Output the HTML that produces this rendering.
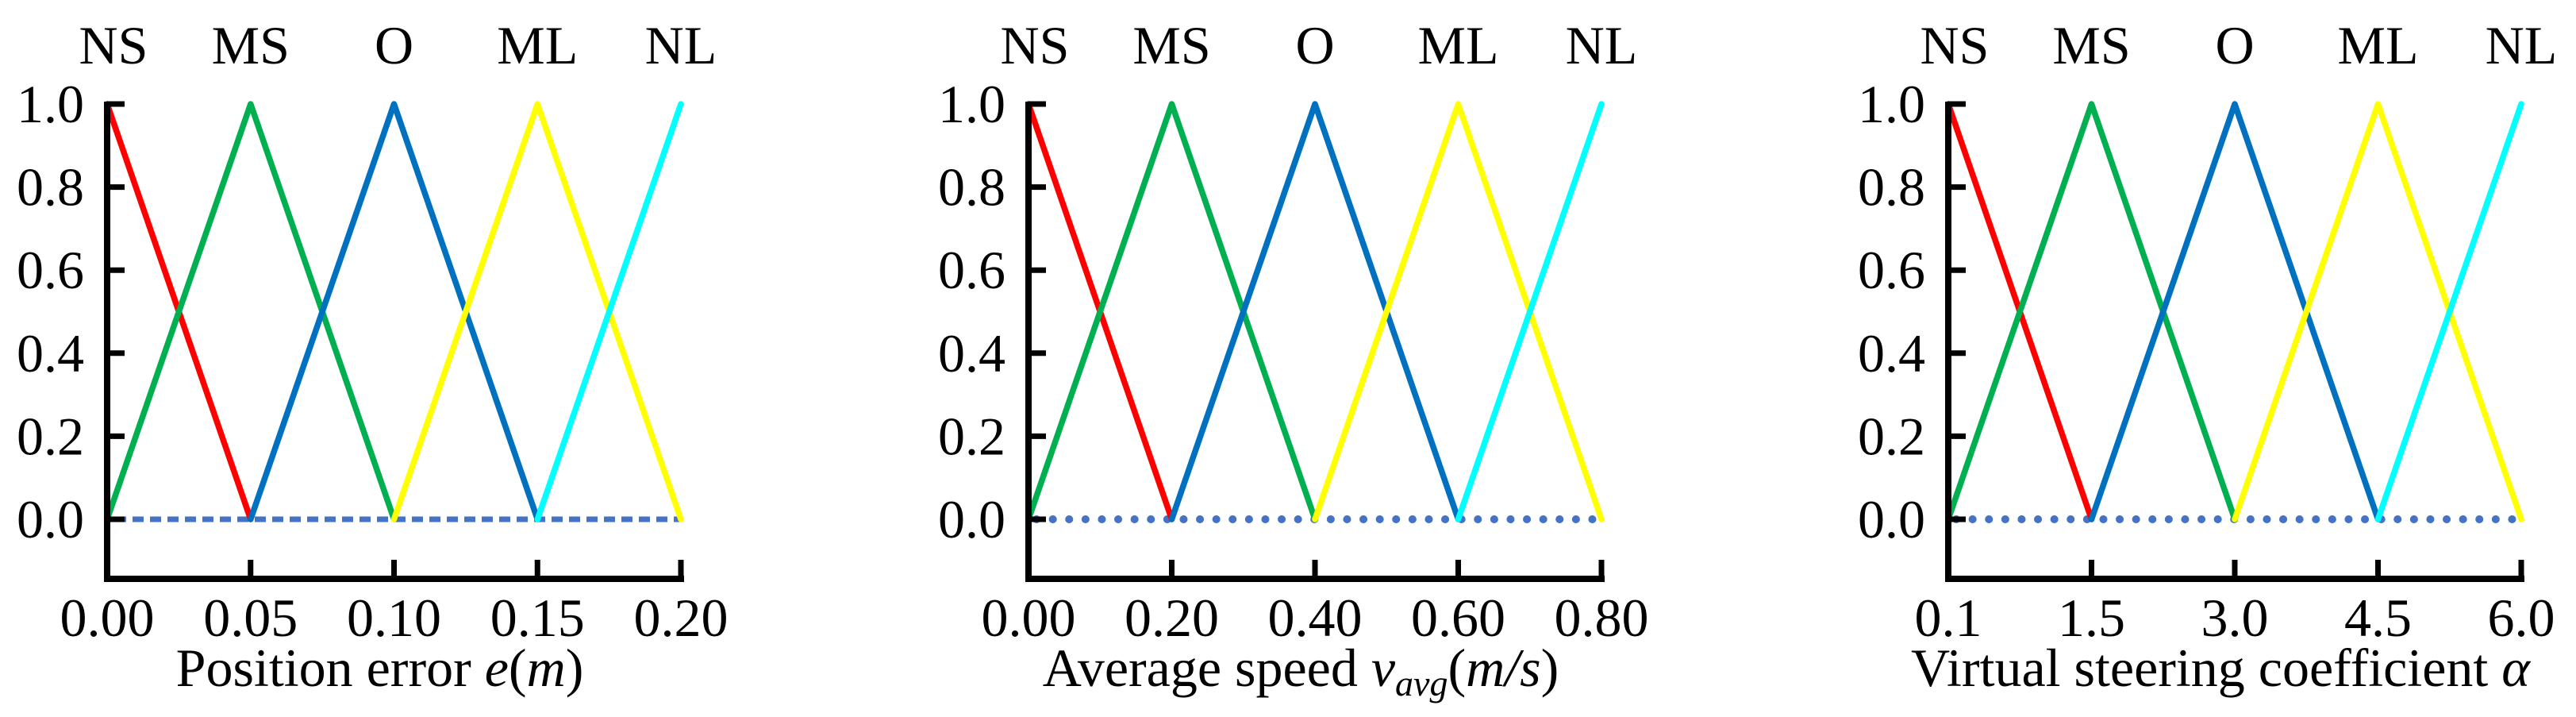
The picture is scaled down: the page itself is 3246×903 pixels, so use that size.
<!DOCTYPE html>
<html><head><meta charset="utf-8"><style>
html,body{margin:0;padding:0;background:#fff;}
svg{display:block;font-family:"Liberation Serif","DejaVu Serif",serif;}
</style></head><body>
<svg id="chart" width="3246" height="903" viewBox="0 0 3246 903" xmlns="http://www.w3.org/2000/svg"></svg>
<script>
// ---- data ----
const setLabels = ["NS","MS","O","ML","NL"];
const yTicks = [0.0,0.2,0.4,0.6,0.8,1.0];
const yTickLabels = ["0.0","0.2","0.4","0.6","0.8","1.0"];
const xTicks1 = [0.00,0.05,0.10,0.15,0.20];
const xTickLabels1 = ["0.00","0.05","0.10","0.15","0.20"];
const xTicks2 = [0.00,0.20,0.40,0.60,0.80];
const xTickLabels2 = ["0.00","0.20","0.40","0.60","0.80"];
const xTicks3 = [0.1,1.5,3.0,4.5,6.0];
const xTickLabels3 = ["0.1","1.5","3.0","4.5","6.0"];
// membership series (x,y) per panel
const seriesNS1 = [[0.00,1],[0.05,0]];
const seriesMS1 = [[0.00,0],[0.05,1],[0.10,0]];
const seriesO1  = [[0.05,0],[0.10,1],[0.15,0]];
const seriesML1 = [[0.10,0],[0.15,1],[0.20,0]];
const seriesNL1 = [[0.15,0],[0.20,1]];
const seriesNS2 = [[0.00,1],[0.20,0]];
const seriesMS2 = [[0.00,0],[0.20,1],[0.40,0]];
const seriesO2  = [[0.20,0],[0.40,1],[0.60,0]];
const seriesML2 = [[0.40,0],[0.60,1],[0.80,0]];
const seriesNL2 = [[0.60,0],[0.80,1]];
const seriesNS3 = [[0.1,1],[1.5,0]];
const seriesMS3 = [[0.1,0],[1.5,1],[3.0,0]];
const seriesO3  = [[1.5,0],[3.0,1],[4.5,0]];
const seriesML3 = [[3.0,0],[4.5,1],[6.0,0]];
const seriesNL3 = [[4.5,0],[6.0,1]];

const NS = "http://www.w3.org/2000/svg";
const svg = document.getElementById('chart');
const colors = ["#FF0000","#00B050","#0070C0","#FFFF00","#00FFFF"];
function mk(tag, attrs, parent){ const e=document.createElementNS(NS,tag); for(const k in attrs) e.setAttribute(k,attrs[k]); (parent||svg).appendChild(e); return e; }

const Y0 = 654, Y1 = 131, AXB = 729;
function yScale(v){ return Y0 + (Y1-Y0)*v; }

function panel(idx, left, right, ticks, tickLabels, series, titleHTML, dashStyle){
  const g = mk('g',{});
  
  
  function xScale(v){
    const n = ticks.length-1, step=(right-left)/n;
    for(let i=0;i<n;i++){
      if(v<=ticks[i+1] || i===n-1){
        return left + step*(i + (v-ticks[i])/(ticks[i+1]-ticks[i]));
      }
    }
  }
  const zl = mk('line',{x1:xScale(ticks[0])+10,y1:yScale(0),x2:xScale(ticks[ticks.length-1]),y2:yScale(0),stroke:"#4472C4","stroke-width":dashStyle==='dash'?7:10,"stroke-dasharray":dashStyle==='dash'?"14,8":"0.1,20.5","stroke-linecap":dashStyle==='dash'?"butt":"round"},g);
  
  
  series.forEach((s,i)=>{
    const p = mk('polyline',{points:s.map(d=>xScale(d[0]).toFixed(1)+","+yScale(d[1]).toFixed(1)).join(" "),fill:"none",stroke:colors[i],"stroke-width":7.5,"stroke-linejoin":"round","stroke-linecap":"round"},g);
    
    
  });
  const ax = mk('path',{d:`M${left},${Y1-3} L${left},${AXB} L${right+4},${AXB}`,fill:"none",stroke:"#000","stroke-width":8},g);
  
  
  yTicks.forEach((v,i)=>{
    const y=yScale(v);
    const t = mk('line',{x1:left,y1:y,x2:left+22,y2:y,stroke:"#000","stroke-width":7},g);
    
    
    const tl = mk('text',{x:left-29,y:y+23,"text-anchor":"end","font-size":68},g);
    tl.textContent = yTickLabels[i];
    
    
  });
  ticks.forEach((v,i)=>{
    const x=xScale(v);
    if(i>0){
      const t = mk('line',{x1:x,y1:AXB,x2:x,y2:AXB-24,stroke:"#000","stroke-width":7},g);
      
      
    }
    const tl = mk('text',{x:x,y:801,"text-anchor":"middle","font-size":68},g);
    tl.textContent = tickLabels[i];
    
    
    const sl = mk('text',{x:x+(i===0?8:0),y:80,"text-anchor":"middle","font-size":68},g);
    sl.textContent = setLabels[i];
    
    
  });
  const tt = mk('text',{x:(left+right)/2-18,y:864,"text-anchor":"middle","font-size":68},g);
  tt.innerHTML = titleHTML;
  
  
}

panel(0,135,858,xTicks1,xTickLabels1,[seriesNS1,seriesMS1,seriesO1,seriesML1,seriesNL1],
  'Position error <tspan font-style="italic">e</tspan>(<tspan font-style="italic">m</tspan>)','dash');
panel(1,1296,2018,xTicks2,xTickLabels2,[seriesNS2,seriesMS2,seriesO2,seriesML2,seriesNL2],
  'Average speed <tspan font-style="italic">v</tspan><tspan font-style="italic" font-size="46" dy="12">avg</tspan><tspan dy="-12">(</tspan><tspan font-style="italic">m/s</tspan>)','dot');
panel(2,2455,3177,xTicks3,xTickLabels3,[seriesNS3,seriesMS3,seriesO3,seriesML3,seriesNL3],
  'Virtual steering coefficient <tspan font-style="italic">α</tspan>','dot');
</script>
</body></html>
